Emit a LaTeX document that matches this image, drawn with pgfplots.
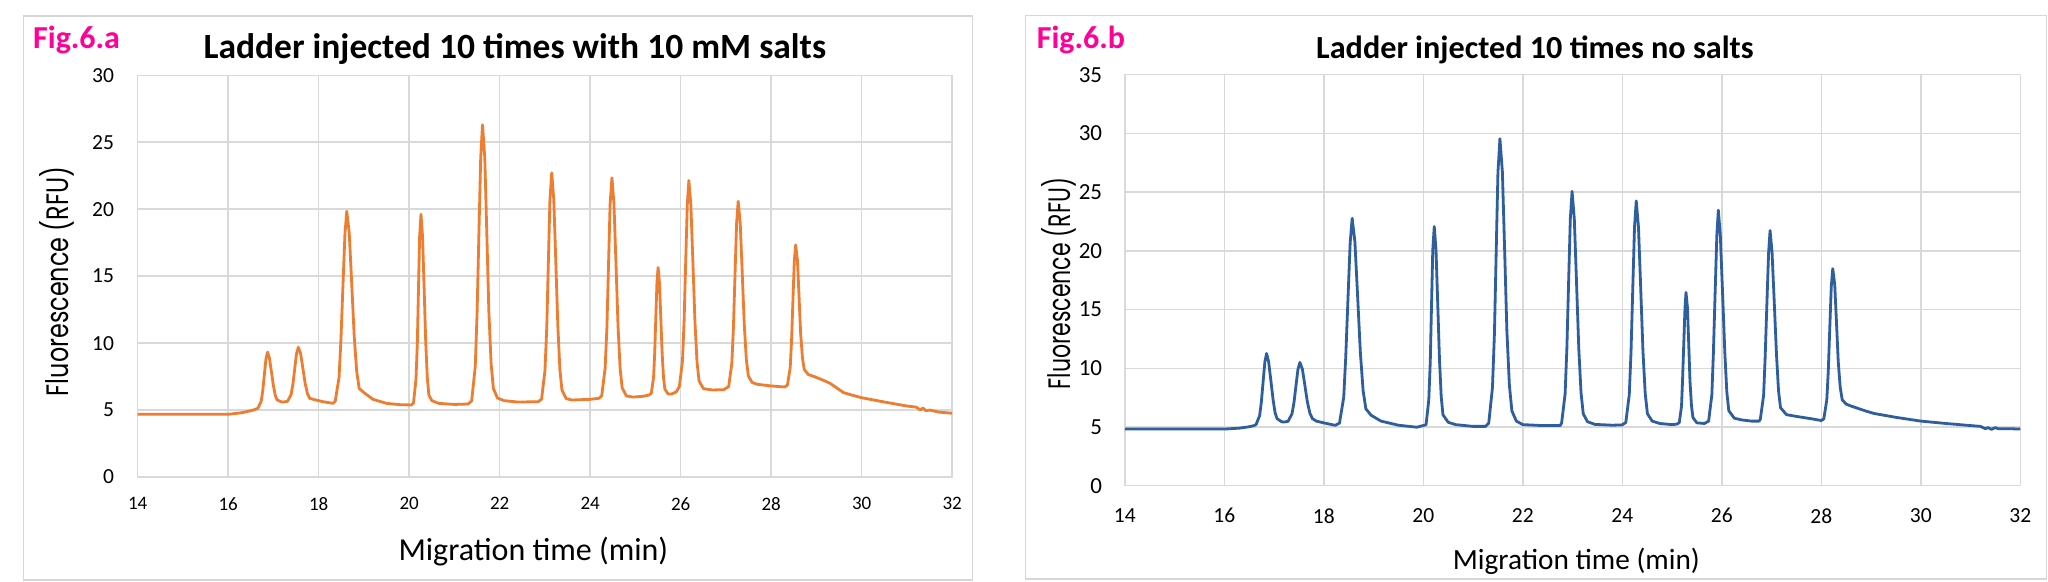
\documentclass[border=0pt]{standalone}
\usepackage{graphicx}
\usepackage{pgfplots}
\pgfplotsset{compat=1.18}
\usepackage{fontspec}
\setmainfont{Carlito}
\newfontfamily\poppins{Poppins}
\definecolor{gridgray}{HTML}{D9D9D9}
\definecolor{boxgray}{HTML}{D6D6D6}
\definecolor{exorange}{HTML}{ED7D31}
\definecolor{exblue}{HTML}{2F5E9E}
\definecolor{figpink}{HTML}{FF0099}

\pgfplotstableread{
t v
14.00 4.68
16.00 4.68
16.30 4.80
16.50 4.95
16.60 5.05
16.66 5.15
16.73 5.67
16.765 6.47
16.80 7.67
16.835 8.83
16.87 9.33
16.91 8.89
16.955 7.86
17.00 6.81
17.04 6.10
17.08 5.76
17.19 5.59
17.31 5.65
17.39 6.15
17.43 6.93
17.47 8.08
17.51 9.21
17.55 9.69
17.60 9.22
17.65 8.12
17.70 7.00
17.75 6.24
17.80 5.88
17.90 5.78
18.10 5.62
18.32 5.50
18.365 5.66
18.45 7.44
18.49 10.16
18.535 14.21
18.58 18.16
18.62 19.85
18.675 18.22
18.73 14.41
18.785 10.50
18.84 7.87
18.895 6.61
19.00 6.30
19.20 5.80
19.50 5.50
19.80 5.40
20.05 5.38
20.095 5.54
20.15 7.30
20.18 10.01
20.205 14.02
20.23 17.94
20.26 19.62
20.295 17.95
20.33 14.07
20.365 10.09
20.40 7.41
20.435 6.12
20.50 5.70
20.65 5.50
21.00 5.42
21.30 5.45
21.38 5.68
21.46 8.26
21.50 12.23
21.54 18.11
21.58 23.84
21.62 26.30
21.67 23.87
21.715 18.20
21.76 12.40
21.81 8.48
21.86 6.61
21.95 5.90
22.10 5.70
22.40 5.60
22.85 5.62
22.925 5.81
23.00 7.93
23.04 11.18
23.075 16.00
23.11 20.70
23.15 22.72
23.195 20.72
23.24 16.05
23.285 11.27
23.33 8.04
23.375 6.50
23.47 5.85
23.60 5.75
24.00 5.80
24.20 5.88
24.255 6.08
24.33 8.12
24.37 11.24
24.405 15.88
24.44 20.40
24.48 22.34
24.525 20.41
24.57 15.90
24.615 11.28
24.66 8.16
24.705 6.67
24.80 6.05
24.95 5.97
25.15 6.02
25.30 6.12
25.35 6.25
25.40 7.43
25.425 9.23
25.45 11.91
25.475 14.52
25.50 15.64
25.53 14.52
25.56 11.91
25.59 9.23
25.62 7.43
25.65 6.57
25.72 6.20
25.80 6.20
25.90 6.35
25.97 6.75
26.04 8.70
26.075 11.65
26.11 16.03
26.145 20.31
26.18 22.14
26.225 20.29
26.27 15.99
26.315 11.58
26.36 8.61
26.405 7.19
26.50 6.60
26.70 6.50
26.95 6.52
27.06 6.75
27.13 8.49
27.165 11.15
27.20 15.09
27.235 18.94
27.27 20.59
27.315 18.98
27.36 15.23
27.405 11.38
27.45 8.79
27.495 7.55
27.58 7.05
27.70 6.92
28.00 6.80
28.30 6.72
28.36 6.87
28.42 8.18
28.45 10.19
28.48 13.17
28.51 16.08
28.54 17.33
28.58 16.18
28.615 13.51
28.65 10.76
28.69 8.91
28.73 8.03
28.82 7.65
28.95 7.50
29.10 7.30
29.30 7.00
29.45 6.65
29.60 6.30
29.80 6.10
30.00 5.92
30.50 5.60
31.00 5.30
31.20 5.22
31.30 5.00
31.35 5.15
31.42 4.95
31.50 5.00
31.70 4.85
32.00 4.76
}\saltdata

\pgfplotstableread{
t v
14.00 4.82
16.00 4.82
16.30 4.90
16.50 5.02
16.60 5.12
16.64 5.22
16.71 5.97
16.745 7.14
16.78 8.86
16.815 10.54
16.85 11.26
16.89 10.57
16.935 8.98
16.98 7.34
17.02 6.23
17.06 5.71
17.15 5.45
17.20 5.42
17.28 5.48
17.36 6.11
17.40 7.07
17.44 8.50
17.48 9.90
17.52 10.50
17.57 9.91
17.62 8.53
17.67 7.12
17.72 6.18
17.77 5.72
17.85 5.50
18.00 5.35
18.23 5.14
18.315 5.33
18.40 7.52
18.44 10.87
18.485 15.84
18.53 20.69
18.57 22.77
18.625 20.77
18.68 16.10
18.735 11.32
18.79 8.09
18.845 6.55
18.95 6.00
19.15 5.50
19.50 5.15
19.87 4.98
20.055 5.19
20.11 7.30
20.14 10.55
20.165 15.36
20.19 20.06
20.22 22.07
20.255 20.09
20.29 15.48
20.325 10.75
20.36 7.57
20.395 6.04
20.50 5.40
20.65 5.20
21.00 5.05
21.25 5.05
21.315 5.32
21.39 8.36
21.43 13.01
21.465 19.92
21.50 26.66
21.54 29.55
21.59 26.69
21.635 20.02
21.68 13.18
21.73 8.57
21.78 6.37
21.87 5.50
22.00 5.20
22.40 5.12
22.75 5.12
22.78 5.34
22.85 7.81
22.885 11.60
22.92 17.23
22.955 22.72
22.99 25.07
23.035 22.73
23.08 17.28
23.125 11.69
23.17 7.93
23.215 6.12
23.30 5.45
23.45 5.22
23.80 5.15
24.00 5.18
24.07 5.39
24.14 7.75
24.175 11.38
24.21 16.76
24.245 22.00
24.28 24.25
24.325 22.01
24.37 16.80
24.415 11.46
24.46 7.86
24.505 6.13
24.60 5.50
24.75 5.30
25.00 5.20
25.10 5.25
25.145 5.37
25.19 6.76
25.21 8.89
25.235 12.05
25.26 15.14
25.28 16.46
25.31 15.14
25.335 12.07
25.36 8.93
25.39 6.81
25.42 5.79
25.50 5.35
25.65 5.30
25.735 5.50
25.80 7.75
25.83 11.20
25.865 16.32
25.90 21.32
25.93 23.46
25.97 21.35
26.015 16.44
26.06 11.40
26.10 8.01
26.14 6.39
26.25 5.75
26.40 5.60
26.60 5.50
26.75 5.50
26.775 5.68
26.84 7.69
26.87 10.77
26.905 15.35
26.94 19.81
26.97 21.73
27.01 19.87
27.055 15.53
27.10 11.08
27.14 8.08
27.18 6.64
27.30 6.05
27.50 5.90
27.80 5.70
28.00 5.55
28.05 5.69
28.11 7.30
28.14 9.75
28.17 13.40
28.20 16.95
28.23 18.48
28.27 17.10
28.305 13.89
28.34 10.59
28.38 8.38
28.42 7.31
28.50 6.95
28.60 6.78
28.90 6.35
29.06 6.15
29.50 5.82
30.00 5.50
30.50 5.30
31.00 5.12
31.20 5.05
31.30 4.85
31.35 4.95
31.42 4.80
31.50 4.95
31.55 4.85
31.80 4.85
32.00 4.82
}\nosaltdata

\pgfplotsset{
  chromo/.style={
    scale only axis,
    anchor=south west,
    xmin=14, xmax=32,
    xtick={14,16,...,32},
    grid=major,
    major grid style={draw=gridgray, line width=1.5pt},
    axis line style={draw=gridgray, line width=1.5pt},
    tick style={draw=none},
    /pgf/number format/assume math mode=true,
    ticklabel style={inner sep=0pt},
  }
}

\begin{document}
\begin{tikzpicture}[x=1pt,y=1pt]
\useasboundingbox (0,0) rectangle (2048,581);
\fill[white] (0,0) rectangle (2048,581);

% panel frames
\draw[boxgray, line width=1.5pt] (23.3,1) rectangle (972.7,565);
\draw[boxgray, line width=1.5pt] (1025.7,2) rectangle (2046.5,565.5);

% left panel
\begin{axis}[chromo,
  at={(137.7pt,104pt)}, width=814.5pt, height=401.7pt,
  ymin=0, ymax=30, ytick={0,5,...,30},
  yticklabel style={anchor=east, xshift=-23.5pt, font=\fontsize{21.5}{22}\selectfont},
  xticklabel style={anchor=north, yshift=-20pt, font=\fontsize{19}{20}\selectfont},
]
\addplot[exorange, line width=2.8pt, line join=round] table[x=t,y=v] {\saltdata};
\end{axis}

% right panel
\begin{axis}[chromo,
  at={(1124.8pt,95.3pt)}, width=895.5pt, height=411pt,
  ymin=0, ymax=35, ytick={0,5,...,35},
  yticklabel style={anchor=east, xshift=-22.5pt, font=\fontsize{23}{24}\selectfont},
  xticklabel style={anchor=north, yshift=-22.5pt, font=\fontsize{21.5}{22}\selectfont},
]
\addplot[exblue, line width=2.8pt, line join=round] table[x=t,y=v] {\nosaltdata};
\end{axis}

% texts
\node[anchor=base west, inner sep=0pt, text=figpink] at (33,532.7) {\fontsize{32}{34}\selectfont\bfseries Fig.6.a};
\node[anchor=base west, inner sep=0pt, text=figpink] at (1036.7,532.7) {\fontsize{32}{34}\selectfont\bfseries Fig.6.b};

\node[anchor=base west, inner sep=0pt] at (203.3,522.7) {\fontsize{35.5}{37}\selectfont\bfseries Ladder injected 10 times with 10 mM salts};
\node[anchor=base west, inner sep=0pt] at (1316,522.7) {\fontsize{32.2}{34}\selectfont\bfseries Ladder injected 10 times no salts};

\node[anchor=base west, inner sep=0pt] at (398.3,20.7) {\fontsize{32}{34}\selectfont Migration time (min)};
\node[anchor=base west, inner sep=0pt] at (1452.7,11.7) {\fontsize{29.3}{31}\selectfont Migration time (min)};

\node[rotate=90, anchor=base, inner sep=0pt] at (68.3,299.5) {\scalebox{0.77}[1]{\fontsize{31}{32}\selectfont\poppins Fluorescence (RFU)}};
\node[rotate=90, anchor=base, inner sep=0pt] at (1070,297.5) {\scalebox{0.71}[1]{\fontsize{31}{32}\selectfont\poppins Fluorescence (RFU)}};
\end{tikzpicture}
\end{document}
